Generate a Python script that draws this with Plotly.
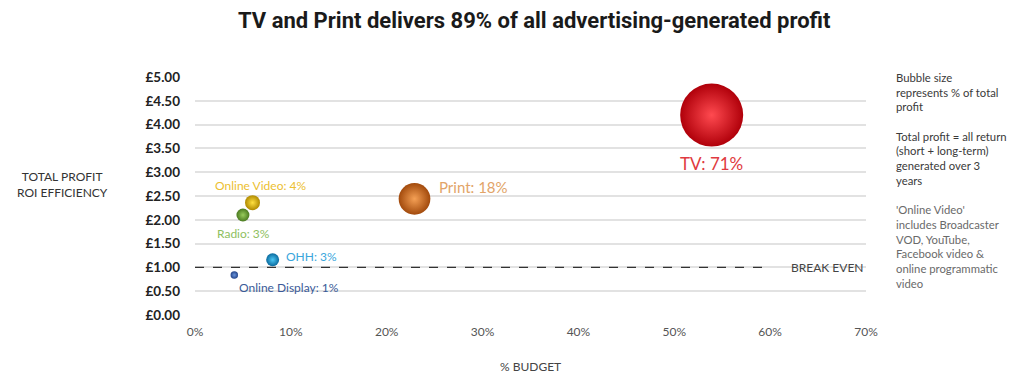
import plotly.graph_objects as go

# Media channels: share of budget (%), total profit ROI (£), share of total profit (%)
channels = ["TV", "Print", "Online Video", "Radio", "OHH", "Online Display"]
budget_pct = [53.9, 22.9, 6.0, 5.0, 8.1, 4.1]
roi = [4.20, 2.44, 2.36, 2.10, 1.16, 0.84]
profit_share = [71, 18, 4, 3, 3, 1]

y_ticks = [0, 0.5, 1, 1.5, 2, 2.5, 3, 3.5, 4, 4.5, 5]
x_ticks = [0, 10, 20, 30, 40, 50, 60, 70]
break_even = 1.0

# sphere shading: bright centre, darker rim
centre = ["#ff4a50", "#f5a055", "#ffe040", "#98cc5c", "#4cc8f5", "#6a94dc"]
rim = ["#b0000a", "#a24a0c", "#b08a00", "#4a7a20", "#0a6a9e", "#24458a"]
label_col = ["#e03a40", "#e2a468", "#ecc030", "#8ec060", "#3aa6dc", "#3a5a98"]
label_size = [17, 15, 12, 12, 12, 12]
# label offsets from each bubble centre (px) and anchor
label_dx = [0, 22, 8, 1, 11, 3]
label_dy = [-48, 12, 17, -18, 3, -12]
label_anchor = ["center", "left", "center", "center", "left", "left"]

max_d = 63
diam = [max_d * (s / max(profit_share)) ** 0.5 for s in profit_share]

fig = go.Figure()

fig.add_trace(go.Scatter(
    x=[0, 60], y=[break_even, break_even], mode="lines",
    line=dict(color="#333333", width=1.2, dash="dash"),
    hoverinfo="skip", showlegend=False,
))

fig.add_trace(go.Scatter(
    x=budget_pct, y=roi, mode="markers",
    marker=dict(size=diam, color=rim, line=dict(width=0),
                gradient=dict(type="radial", color=centre), opacity=1),
    text=channels, showlegend=False,
))

for i, name in enumerate(channels):
    fig.add_annotation(
        x=budget_pct[i], y=roi[i], text=f"{name}: {profit_share[i]}%",
        showarrow=False, xanchor=label_anchor[i], yanchor="middle",
        xshift=label_dx[i], yshift=label_dy[i],
        font=dict(family="Lato, sans-serif", size=label_size[i], color=label_col[i]),
    )

fig.add_annotation(x=70, y=break_even, xanchor="right", yanchor="middle", showarrow=False,
                   text="BREAK EVEN", font=dict(family="Lato, sans-serif", size=12, color="#444444"))

# Title, axis titles and side notes
fig.add_annotation(xref="paper", yref="paper", x=0.506, y=1.0, yshift=57, yanchor="middle",
                   showarrow=False,
                   text="<b>TV and Print delivers 89% of all advertising-generated profit</b>",
                   font=dict(family="Roboto, sans-serif", size=22, color="#1a1a1a"))
fig.add_annotation(xref="paper", yref="paper", x=-0.198, xanchor="center", y=0.55, showarrow=False,
                   text="TOTAL PROFIT<br>ROI EFFICIENCY", align="center",
                   font=dict(family="Lato, sans-serif", size=12, color="#333333"))
fig.add_annotation(xref="paper", yref="paper", x=0.5, y=0, yshift=-51, yanchor="middle",
                   showarrow=False,
                   text="% BUDGET", font=dict(family="Lato, sans-serif", size=12, color="#444444"))

notes = ("Bubble size<br>represents % of total<br>profit<br><br>"
         "Total profit = all return<br>(short + long-term)<br>generated over 3<br>years<br><br>"
         "<span style='color:#6a6a6a'>'Online Video'<br>includes Broadcaster<br>VOD, YouTube,<br>"
         "Facebook video &<br>online programmatic<br>video</span>")
fig.add_annotation(xref="paper", yref="paper", x=1.0, xshift=28, y=1.0, yshift=8,
                   xanchor="left", yanchor="top", showarrow=False, align="left",
                   text=notes, font=dict(family="Lato, sans-serif", size=11.3, color="#3a3a3a"))

fig.update_layout(
    width=1019, height=374,
    margin=dict(l=195, r=153, t=77, b=59),
    paper_bgcolor="white", plot_bgcolor="white",
    xaxis=dict(range=[0, 70], tickvals=x_ticks, ticktext=[f"{v}%" for v in x_ticks],
               showgrid=False, zeroline=False, showline=False, ticks="", ticklabelstandoff=8,
               tickfont=dict(family="Lato, sans-serif", size=12, color="#555555")),
    yaxis=dict(range=[0, 5], tickvals=y_ticks, ticktext=[f"<b>£{v:.2f}</b>" for v in y_ticks],
               showgrid=True, gridcolor="#e2e2e2", gridwidth=1.5, zeroline=False,
               showline=False, ticks="", ticklabelstandoff=14,
               tickfont=dict(family="Lato, sans-serif", size=13.5, color="#222222")),
)

fig.write_html("out.html")
